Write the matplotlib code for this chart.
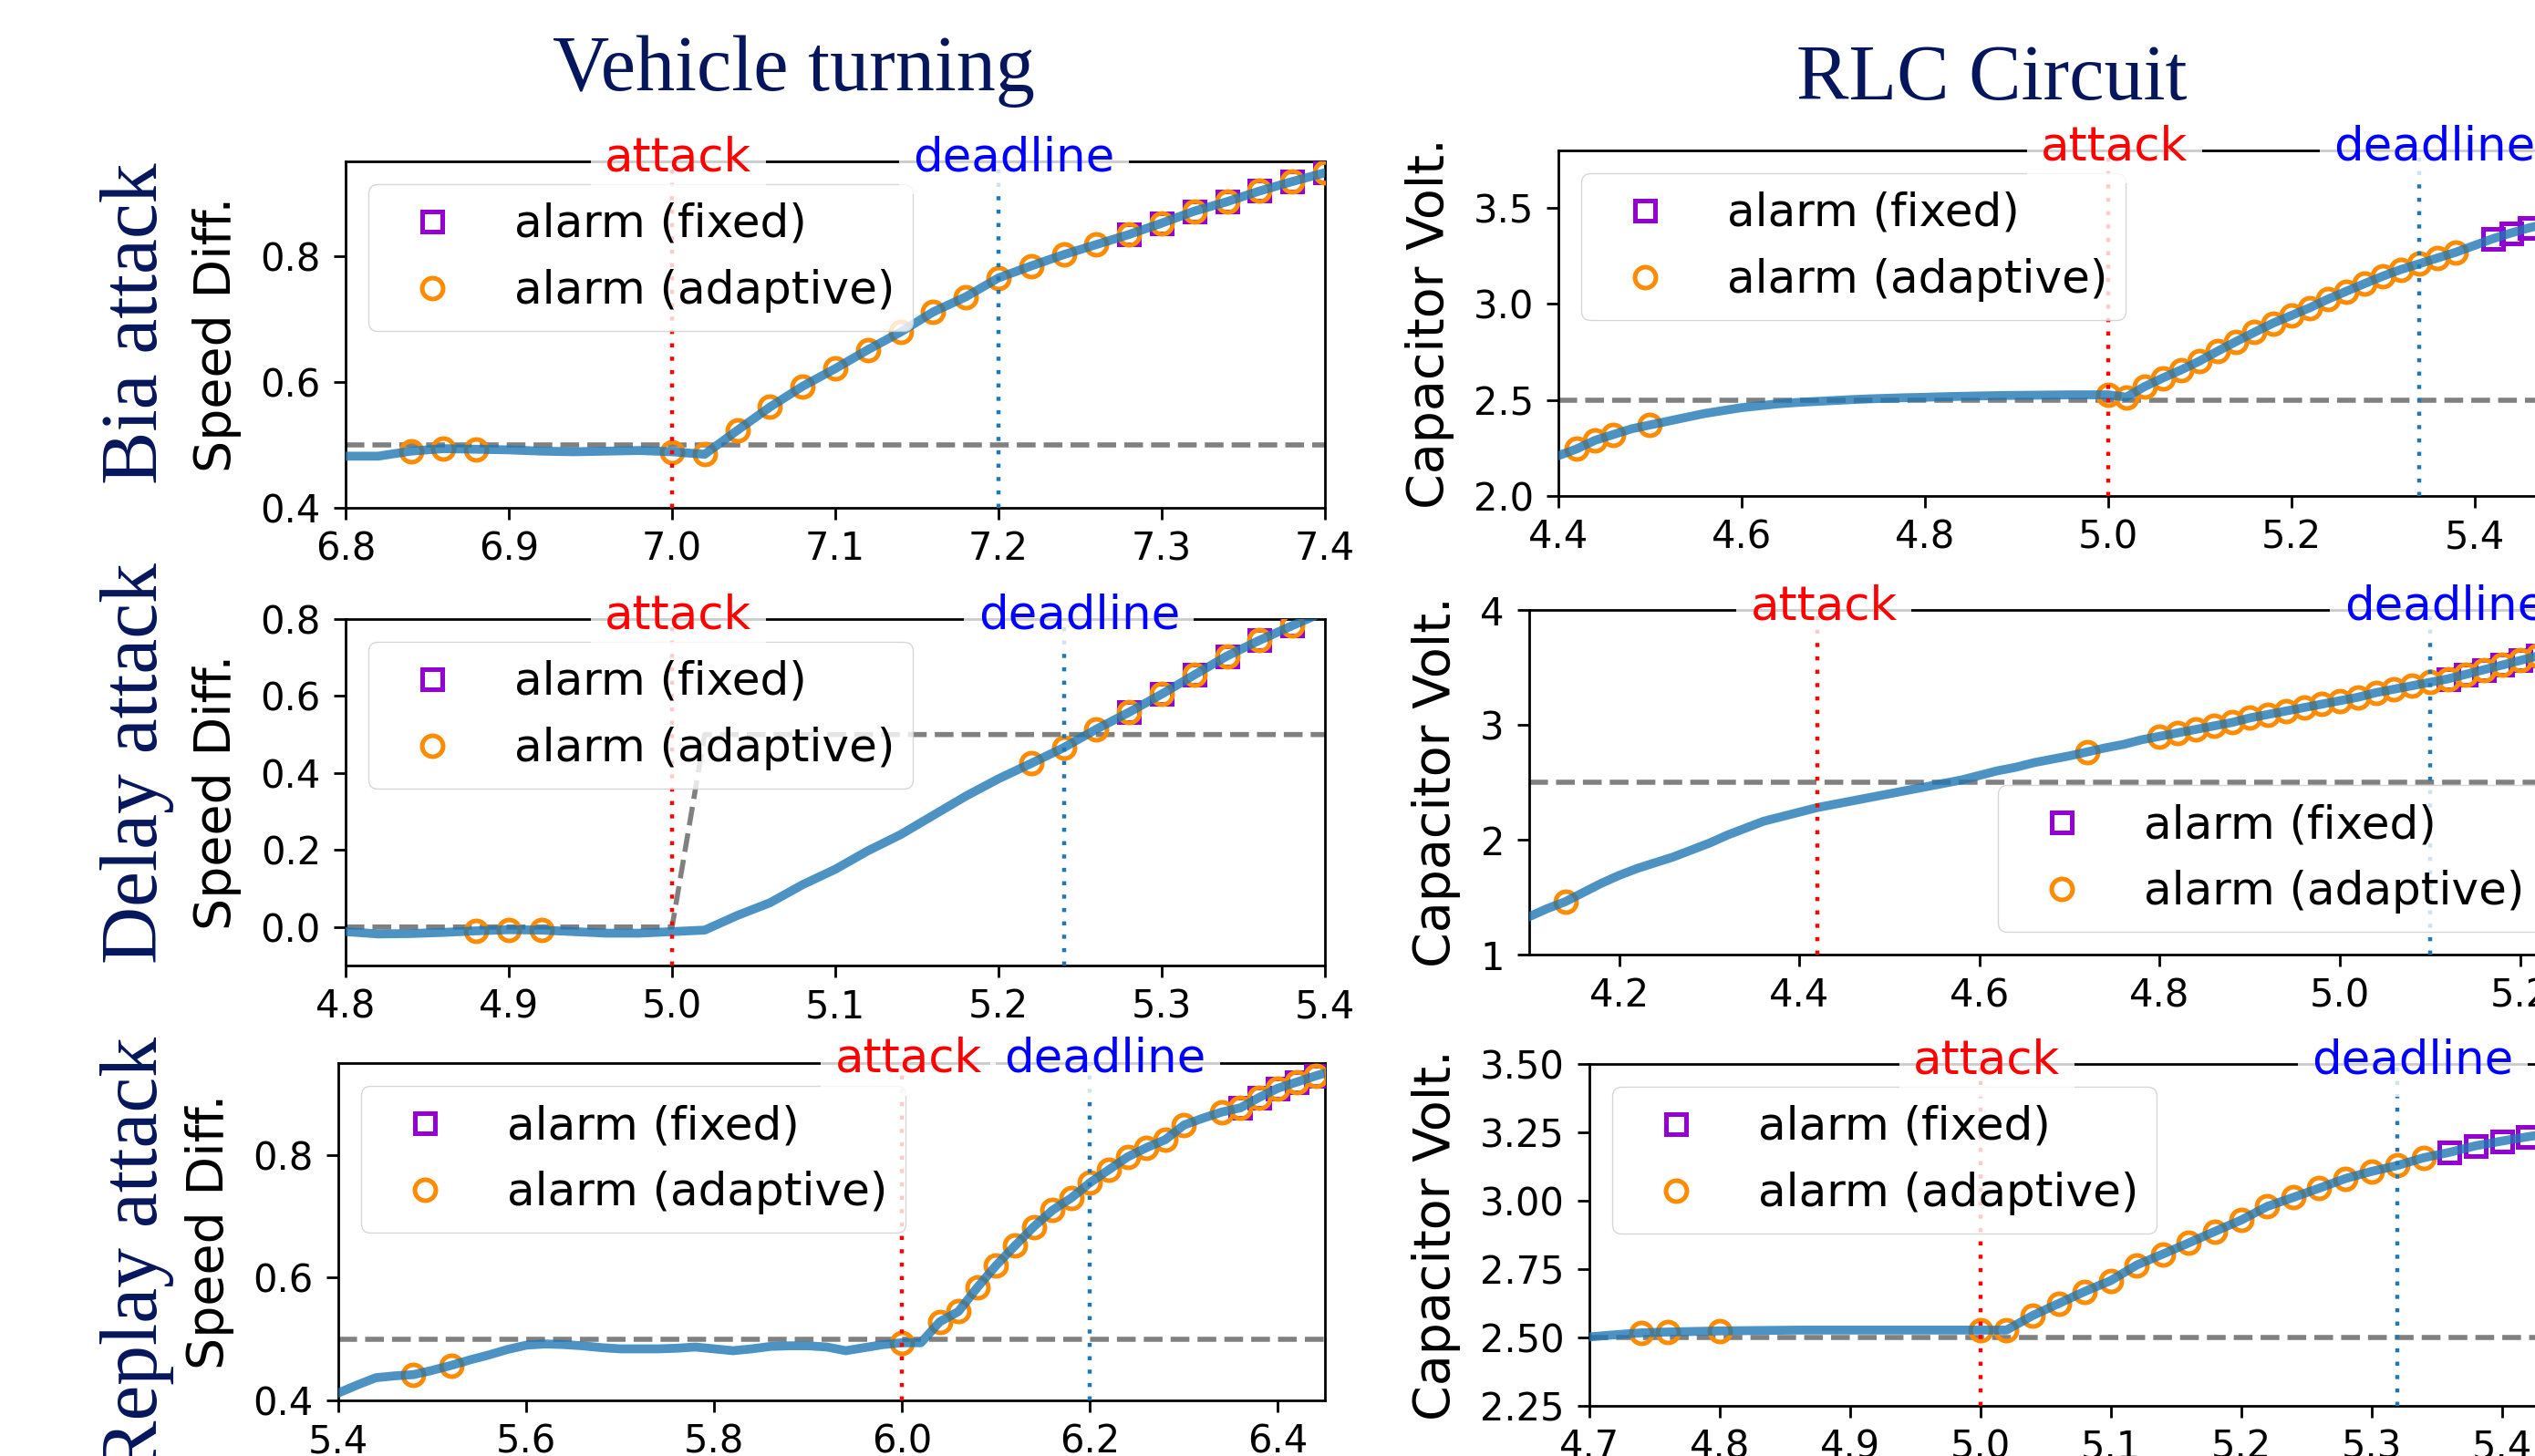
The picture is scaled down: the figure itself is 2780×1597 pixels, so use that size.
import numpy as np
import matplotlib
matplotlib.use('Agg')
import matplotlib.pyplot as plt

plt.rcParams['font.family'] = 'DejaVu Sans'

W, H = 2780, 1597
DT = 0.02          # sample period of the logged signals
NAVY = '#06165c'
SERIF = 'Liberation Serif'

# ---------------- Bias attack, vehicle turning ----------------
bias_veh_t0 = 6.80
bias_veh_y = [0.482, 0.482, 0.490, 0.494, 0.493, 0.492, 0.490, 0.489, 0.490, 0.491,
              0.489, 0.485, 0.523, 0.560, 0.593, 0.621, 0.651, 0.679, 0.711, 0.735,
              0.765, 0.784, 0.802, 0.818, 0.834, 0.852, 0.871, 0.886, 0.903, 0.918,
              0.932]
bias_veh_fixed = [7.28, 7.30, 7.32, 7.34, 7.36, 7.38, 7.40]
bias_veh_adapt = [6.84, 6.86, 6.88, 7.00, 7.02, 7.04, 7.06, 7.08, 7.10, 7.12, 7.14,
                  7.16, 7.18, 7.20, 7.22, 7.24, 7.26, 7.28, 7.30, 7.32, 7.34, 7.36,
                  7.38, 7.40]

# ---------------- Bias attack, RLC circuit ----------------
bias_rlc_t0 = 4.40
bias_rlc_y = [2.210, 2.245, 2.290, 2.320, 2.350, 2.370, 2.390, 2.410, 2.430, 2.445,
              2.460, 2.470, 2.480, 2.487, 2.492, 2.497, 2.502, 2.506, 2.509, 2.512,
              2.514, 2.517, 2.519, 2.521, 2.523, 2.524, 2.525, 2.526, 2.527, 2.527,
              2.527, 2.515, 2.570, 2.615, 2.657, 2.703, 2.755, 2.805, 2.853, 2.900,
              2.940, 2.980, 3.025, 3.066, 3.106, 3.145, 3.180, 3.210, 3.240, 3.270,
              3.305, 3.340, 3.370, 3.397, 3.420, 3.445]
bias_rlc_fixed = [5.42, 5.44, 5.46, 5.48, 5.50]
bias_rlc_adapt = [4.42, 4.44, 4.46, 4.50, 5.00, 5.02, 5.04, 5.06, 5.08, 5.10, 5.12,
                  5.14, 5.16, 5.18, 5.20, 5.22, 5.24, 5.26, 5.28, 5.30, 5.32, 5.34,
                  5.36, 5.38]

# ---------------- Delay attack, vehicle turning ----------------
delay_veh_t0 = 4.80
delay_veh_y = [-0.012, -0.018, -0.017, -0.014, -0.010, -0.007, -0.008, -0.012, -0.016, -0.016,
               -0.012, -0.008, 0.030, 0.063, 0.110, 0.150, 0.198, 0.240, 0.290, 0.340,
               0.385, 0.425, 0.466, 0.514, 0.558, 0.605, 0.655, 0.704, 0.745, 0.783,
               0.820]
delay_veh_fixed = [5.28, 5.30, 5.32, 5.34, 5.36, 5.38]
delay_veh_adapt = [4.88, 4.90, 4.92, 5.22, 5.24, 5.26, 5.28, 5.30, 5.32, 5.34, 5.36, 5.38]
delay_veh_thr_t = [4.80, 5.00, 5.02, 5.40]
delay_veh_thr_v = [0.0, 0.0, 0.5, 0.5]

# ---------------- Delay attack, RLC circuit ----------------
delay_rlc_t0 = 4.10
delay_rlc_y = [1.33, 1.40, 1.46, 1.54, 1.62, 1.69, 1.75, 1.80, 1.85, 1.91,
               1.97, 2.04, 2.10, 2.16, 2.20, 2.24, 2.28, 2.31, 2.34, 2.37,
               2.40, 2.43, 2.46, 2.49, 2.52, 2.56, 2.60, 2.63, 2.67, 2.70,
               2.73, 2.765, 2.80, 2.83, 2.87, 2.90, 2.93, 2.96, 2.99, 3.02,
               3.06, 3.09, 3.12, 3.15, 3.18, 3.21, 3.24, 3.28, 3.31, 3.34,
               3.37, 3.40, 3.44, 3.48, 3.52, 3.56, 3.60, 3.64, 3.68]
delay_rlc_fixed = [5.12, 5.14, 5.16, 5.18, 5.20, 5.22, 5.24, 5.26]
delay_rlc_adapt = [4.14, 4.72, 4.80, 4.82, 4.84, 4.86, 4.88, 4.90, 4.92, 4.94, 4.96,
                   4.98, 5.00, 5.02, 5.04, 5.06, 5.08, 5.10, 5.12, 5.14, 5.16, 5.18,
                   5.20, 5.22, 5.24, 5.26]

# ---------------- Replay attack, vehicle turning ----------------
replay_veh_t0 = 5.40
replay_veh_y = [0.412, 0.425, 0.437, 0.440, 0.442, 0.449, 0.457, 0.466, 0.474, 0.483,
                0.490, 0.492, 0.491, 0.489, 0.486, 0.484, 0.484, 0.484, 0.485, 0.487,
                0.484, 0.481, 0.484, 0.488, 0.489, 0.489, 0.487, 0.481, 0.486, 0.491,
                0.494, 0.494, 0.528, 0.545, 0.584, 0.620, 0.652, 0.683, 0.710, 0.730,
                0.755, 0.776, 0.797, 0.812, 0.825, 0.849, 0.860, 0.870, 0.877, 0.894,
                0.909, 0.919, 0.929, 0.938]
replay_veh_fixed = [6.36, 6.38, 6.40, 6.42, 6.44]
replay_veh_adapt = [5.48, 5.52, 6.00, 6.04, 6.06, 6.08, 6.10, 6.12, 6.14, 6.16, 6.18,
                    6.20, 6.22, 6.24, 6.26, 6.28, 6.30, 6.34, 6.36, 6.38, 6.40, 6.42,
                    6.44]

# ---------------- Replay attack, RLC circuit ----------------
replay_rlc_t0 = 4.70
replay_rlc_y = [2.502, 2.510, 2.517, 2.520, 2.522, 2.524, 2.525, 2.526, 2.527, 2.527,
                2.527, 2.527, 2.527, 2.527, 2.527, 2.527, 2.527, 2.580, 2.624, 2.668,
                2.708, 2.765, 2.805, 2.846, 2.888, 2.929, 2.979, 3.012, 3.046, 3.081,
                3.107, 3.129, 3.157, 3.177, 3.201, 3.218, 3.234, 3.248, 3.260]
replay_rlc_fixed = [5.36, 5.38, 5.40, 5.42, 5.44, 5.46]
replay_rlc_adapt = [4.74, 4.76, 4.80, 5.00, 5.02, 5.04, 5.06, 5.08, 5.10, 5.12, 5.14,
                    5.16, 5.18, 5.20, 5.22, 5.24, 5.26, 5.28, 5.30, 5.32, 5.34]


def box(l, r, t, b):
    # pixel box -> figure fraction
    return [l / W, 1 - b / H, (r - l) / W, (b - t) / H]


def draw(ax, t0, vals, thr_t, thr_v, fixed, adapt, attack, deadline,
         xlim, ylim, xticks, xfmt, yticks, yfmt, ylabel, loc):
    t = np.round(t0 + DT * np.arange(len(vals)), 2)
    v = np.array(vals)
    mf = np.isin(t, np.round(fixed, 2))
    ma = np.isin(t, np.round(adapt, 2))
    ax.plot(t[mf], v[mf], 's', ms=16.5, mfc='none', mec='darkviolet', mew=3.6,
            label='alarm (fixed)', zorder=3)
    ax.plot(t[ma], v[ma], 'o', ms=16.5, mfc='none', mec='darkorange', mew=3.6,
            label='alarm (adaptive)', zorder=3)
    ax.plot(t, v, color='#1f77b4', alpha=0.8, lw=7, zorder=4)
    ax.plot(thr_t, thr_v, ls='--', color='grey', lw=4, zorder=2)
    ax.axvline(attack, color='red', ls=(0, (1, 2.3)), lw=3.2, zorder=4.5)
    ax.axvline(deadline, color='#1f77b4', ls=(0, (1, 2.3)), lw=3.2, zorder=4.5)
    for x, s, c, dx in [(attack, 'attack', 'red', 5), (deadline, 'deadline', 'blue', 12)]:
        ax.annotate(s, xy=(x, 1), xycoords=('data', 'axes fraction'),
                    xytext=(dx, -7.2), textcoords='offset points',
                    ha='center', va='baseline', color=c, fontsize=37,
                    bbox=dict(boxstyle='square,pad=0.3', fc='white', ec='none', alpha=0.8),
                    annotation_clip=False, zorder=6)
    ax.set_xlim(xlim)
    ax.set_ylim(ylim)
    ax.set_xticks(xticks)
    ax.set_xticklabels([xfmt.format(x) for x in xticks])
    ax.set_yticks(yticks)
    ax.set_yticklabels([yfmt.format(y) for y in yticks])
    ax.tick_params(labelsize=30, length=9.5, width=2)
    ax.tick_params(axis='y', pad=10)
    ax.tick_params(axis='x', pad=8)
    for sp in ax.spines.values():
        sp.set_linewidth(2)
    ax.set_ylabel(ylabel, fontsize=40, labelpad=15)
    ax.legend(loc=loc, fontsize=36)


fig = plt.figure(figsize=(W / 100, H / 100), dpi=100)

ax1 = fig.add_axes(box(379, 1453, 177, 557))
draw(ax1, bias_veh_t0, bias_veh_y, [6.8, 7.4], [0.5, 0.5], bias_veh_fixed, bias_veh_adapt,
     7.0, 7.2, (6.8, 7.4), (0.4, 0.95), [6.8, 6.9, 7.0, 7.1, 7.2, 7.3, 7.4], '{:.1f}',
     [0.4, 0.6, 0.8], '{:.1f}', 'Speed Diff.', 'upper left')

ax2 = fig.add_axes(box(1709, 2814, 165, 544))
draw(ax2, bias_rlc_t0, bias_rlc_y, [4.4, 5.5], [2.5, 2.5], bias_rlc_fixed, bias_rlc_adapt,
     5.0, 5.34, (4.4, 5.5), (2.0, 3.8), [4.4, 4.6, 4.8, 5.0, 5.2, 5.4], '{:.1f}',
     [2.0, 2.5, 3.0, 3.5], '{:.1f}', 'Capacitor Volt.', 'upper left')

ax3 = fig.add_axes(box(379, 1453, 679, 1059))
draw(ax3, delay_veh_t0, delay_veh_y, delay_veh_thr_t, delay_veh_thr_v, delay_veh_fixed,
     delay_veh_adapt, 5.0, 5.24, (4.8, 5.4), (-0.1, 0.8),
     [4.8, 4.9, 5.0, 5.1, 5.2, 5.3, 5.4], '{:.1f}',
     [0.0, 0.2, 0.4, 0.6, 0.8], '{:.1f}', 'Speed Diff.', 'upper left')

ax4 = fig.add_axes(box(1677, 2813, 669, 1047))
draw(ax4, delay_rlc_t0, delay_rlc_y, [4.1, 5.25], [2.5, 2.5], delay_rlc_fixed, delay_rlc_adapt,
     4.42, 5.10, (4.1, 5.25), (1, 4), [4.2, 4.4, 4.6, 4.8, 5.0, 5.2], '{:.1f}',
     [1, 2, 3, 4], '{:.0f}', 'Capacitor Volt.', 'lower right')

ax5 = fig.add_axes(box(371, 1453, 1166, 1536))
draw(ax5, replay_veh_t0, replay_veh_y, [5.4, 6.45], [0.5, 0.5], replay_veh_fixed,
     replay_veh_adapt, 6.0, 6.2, (5.4, 6.45), (0.4, 0.95),
     [5.4, 5.6, 5.8, 6.0, 6.2, 6.4], '{:.1f}',
     [0.4, 0.6, 0.8], '{:.1f}', 'Speed Diff.', 'upper left')

ax6 = fig.add_axes(box(1743, 2815, 1167, 1542))
draw(ax6, replay_rlc_t0, replay_rlc_y, [4.7, 5.45], [2.5, 2.5], replay_rlc_fixed,
     replay_rlc_adapt, 5.0, 5.32, (4.7, 5.45), (2.25, 3.5),
     [4.7, 4.8, 4.9, 5.0, 5.1, 5.2, 5.3, 5.4], '{:.1f}',
     [2.25, 2.5, 2.75, 3.0, 3.25, 3.5], '{:.2f}', 'Capacitor Volt.', 'upper left')

# column titles
fig.text(870 / W, 1 - 99.5 / H, 'Vehicle turning', ha='center', va='baseline',
         fontsize=62, family=SERIF, color=NAVY)
fig.text(2184 / W, 1 - 109 / H, 'RLC Circuit', ha='center', va='baseline',
         fontsize=62, family=SERIF, color=NAVY)

# row labels
for yc, s in [(355, 'Bia attack'), (837, 'Delay attack'), (1376, 'Replay attack')]:
    fig.text(172 / W, 1 - yc / H, s, rotation=90, rotation_mode='anchor',
             ha='center', va='baseline', fontsize=63, family=SERIF, color=NAVY)

fig.savefig('out.png', dpi=100)
